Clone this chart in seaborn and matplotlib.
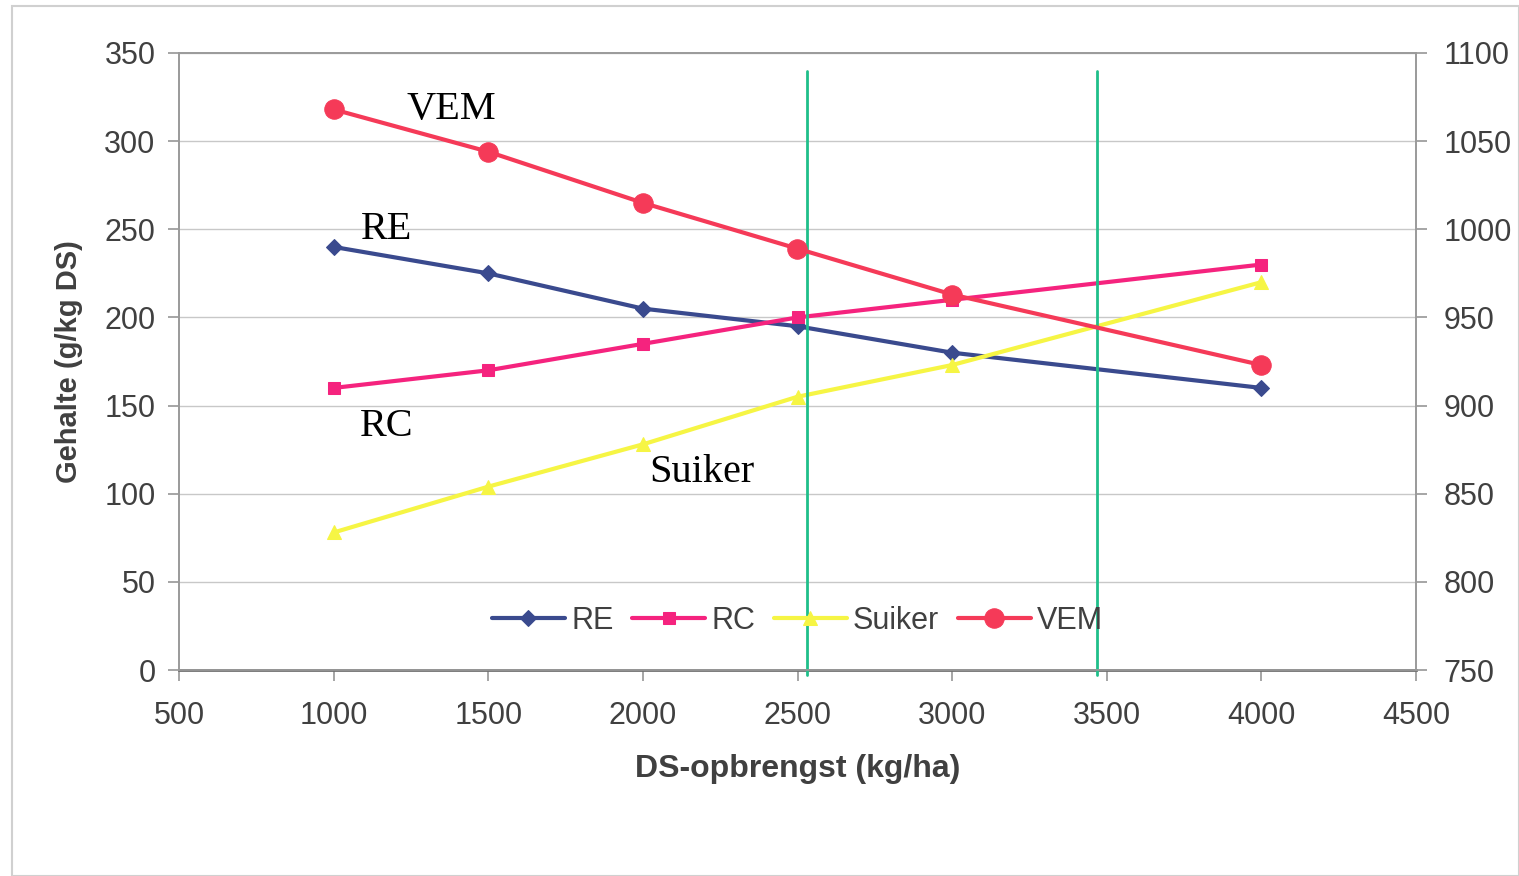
import matplotlib
matplotlib.use("Agg")
import matplotlib.pyplot as plt
import seaborn as sns
import pandas as pd
from matplotlib.patches import Rectangle

sns.set_theme(style="white")
plt.rcParams['font.family'] = ['Liberation Sans', 'DejaVu Sans']

# Data
ds_yield = [1000, 1500, 2000, 2500, 3000, 4000]
re_vals = [240, 225, 205, 195, 180, 160]
rc_vals = [160, 170, 185, 200, 210, 230]
suiker_vals = [78, 104, 128, 155, 173, 220]
vem_vals = [1068, 1044, 1015, 989, 963, 923]
vlines_x = [2530, 3468]

x_ticks = [500, 1000, 1500, 2000, 2500, 3000, 3500, 4000, 4500]
left_ticks = [0, 50, 100, 150, 200, 250, 300, 350]
right_ticks = [750, 800, 850, 900, 950, 1000, 1050, 1100]

c_re = "#3a4a8e"
c_rc = "#f5237e"
c_suiker = "#f6f544"
c_vem = "#f53a58"
c_green = "#1fbf8a"
txt = "#404040"

fig = plt.figure(figsize=(15.19, 8.76), dpi=100)
ax = fig.add_axes([179 / 1519, 1 - 670 / 876, (1416 - 179) / 1519, (670 - 53) / 876])
ax2 = ax.twinx()

df = pd.DataFrame({"x": ds_yield, "RE": re_vals, "RC": rc_vals,
                   "Suiker": suiker_vals, "VEM": vem_vals})

sns.lineplot(data=df, x="x", y="RE", ax=ax, color=c_re, marker="D", markersize=8,
             markeredgecolor=c_re, linewidth=3, label="RE", legend=False)
sns.lineplot(data=df, x="x", y="RC", ax=ax, color=c_rc, marker="s", markersize=9,
             markeredgecolor=c_rc, linewidth=3, label="RC", legend=False)
sns.lineplot(data=df, x="x", y="Suiker", ax=ax, color=c_suiker, marker="^", markersize=10,
             markeredgecolor=c_suiker, linewidth=3, label="Suiker", legend=False)
sns.lineplot(data=df, x="x", y="VEM", ax=ax2, color=c_vem, marker="o", markersize=14,
             markeredgecolor=c_vem, linewidth=3, label="VEM", legend=False)

ax.set_xlim(500, 4500)
ax.set_ylim(0, 350)
ax2.set_ylim(750, 1100)
ax.set_xticks(x_ticks)
ax.set_yticks(left_ticks)
ax2.set_yticks(right_ticks)

ax.yaxis.grid(True, color="#c8c8c8", linewidth=1)
ax.xaxis.grid(False)
ax2.grid(False)

for a in (ax, ax2):
    for s in a.spines.values():
        s.set_color("#9a9a9a")
        s.set_linewidth(1.2)
ax.spines["bottom"].set_color("#707070")
ax.spines["bottom"].set_linewidth(2)

ax.tick_params(axis="y", which="major", labelsize=22, labelcolor=txt,
               direction="out", length=8, color="#9a9a9a", left=True, pad=9)
ax.tick_params(axis="x", which="major", labelsize=22, labelcolor=txt,
               direction="out", length=8, color="#9a9a9a", bottom=True, pad=14)
ax2.tick_params(axis="y", labelsize=22, labelcolor=txt, direction="out", length=8,
                color="#9a9a9a", right=True, pad=12)

ax.set_xlabel("DS-opbrengst (kg/ha)", fontsize=23, fontweight="bold", color=txt, labelpad=17)
ax.set_ylabel("Gehalte (g/kg DS)", fontsize=21, fontweight="bold", color=txt, labelpad=15)
ax2.set_ylabel("")

for xv in vlines_x:
    ax.plot([xv, xv], [340, -3], color=c_green, linewidth=2, clip_on=False, zorder=5)

serif = ["Liberation Serif", "DejaVu Serif"]
for label, xv, yv in [("VEM", 1380, 318), ("RE", 1170, 250), ("RC", 1170, 138), ("Suiker", 2190, 112)]:
    ax.text(xv, yv, label, fontsize=29, family=serif, color="black", ha="center", va="center")

handles = ax.get_lines()[:3] + ax2.get_lines()[:1]
leg = ax.legend(handles=handles, labels=["RE", "RC", "Suiker", "VEM"], loc="center",
                bbox_to_anchor=(0.5, 0.08), ncol=4, frameon=False, fontsize=22,
                handlelength=2.4, handletextpad=0.2, columnspacing=0.6,
                labelcolor=txt)

fig.patches.append(Rectangle((12 / 1519, 0.0), 1 - 12 / 1519, 1 - 6 / 876, transform=fig.transFigure,
                             fill=False, edgecolor="#d0d0d0", linewidth=1.5))

fig.savefig("out.png", dpi=100)
